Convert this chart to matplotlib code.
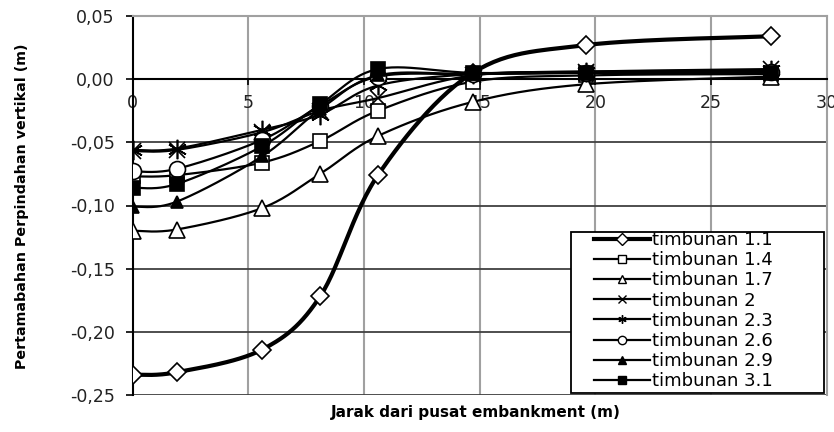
import numpy as np
import matplotlib
matplotlib.use("Agg")
import matplotlib.pyplot as plt
from matplotlib.lines import Line2D
from matplotlib.patches import Rectangle
from matplotlib.ticker import FixedLocator, FuncFormatter

# Distance from embankment centre (m)
jarak = [0, 1.9, 5.6, 8.1, 10.6, 14.7, 19.6, 27.6]

# Vertical displacement increment (m) for each fill stage
t_1_1 = [-0.234, -0.232, -0.214, -0.172, -0.076, 0.005, 0.027, 0.034]
t_1_4 = [-0.077, -0.076, -0.066, -0.049, -0.025, -0.002, 0.003, 0.004]
t_1_7 = [-0.120, -0.119, -0.102, -0.075, -0.045, -0.018, -0.004, 0.002]
t_2 = [-0.057, -0.056, -0.042, -0.025, -0.015, 0.003, 0.006, 0.008]
t_2_3 = [-0.056, -0.055, -0.040, -0.028, -0.005, 0.004, 0.006, 0.007]
t_2_6 = [-0.073, -0.071, -0.048, -0.021, 0.002, 0.004, 0.005, 0.006]
t_2_9 = [-0.101, -0.097, -0.061, -0.024, 0.003, 0.004, 0.005, 0.005]
t_3_1 = [-0.086, -0.083, -0.053, -0.020, 0.008, 0.005, 0.005, 0.005]

labels = ["timbunan 1.1", "timbunan 1.4", "timbunan 1.7", "timbunan 2",
          "timbunan 2.3", "timbunan 2.6", "timbunan 2.9", "timbunan 3.1"]
series = [t_1_1, t_1_4, t_1_7, t_2, t_2_3, t_2_6, t_2_9, t_3_1]

# marker, face colour, marker size, line width
styles = [
    ("D", "white", 9.5, 3.0),
    ("s", "white", 10.5, 1.6),
    ("^", "white", 11.5, 1.6),
    ("x", "none", 12, 1.6),
    ((6, 2, 0), "none", 14, 1.6),
    ("o", "white", 11.5, 1.6),
    ("^", "black", 9, 1.6),
    ("s", "black", 10, 1.6),
]

XMAX, YMIN, YMAX = 30, -0.25, 0.05
AX_W, AX_H = 694, 379


def smooth(xs, ys, n=30):
    # Bezier smoothing through the points, worked out in screen-like units
    px = np.asarray(xs) / XMAX * AX_W
    py = np.asarray(ys) / (YMAX - YMIN) * AX_H
    P = np.column_stack([px, py])
    Pe = np.vstack([P[0], P, P[-1]])
    t = np.linspace(0, 1, n)[:, None]
    out = []
    for i in range(len(P) - 1):
        p0, p3 = P[i], P[i + 1]
        c1 = p0 + (Pe[i + 2] - Pe[i]) / 6
        c2 = p3 - (Pe[i + 3] - Pe[i + 1]) / 6
        seg = ((1 - t) ** 3) * p0 + 3 * ((1 - t) ** 2) * t * c1 \
            + 3 * (1 - t) * t ** 2 * c2 + t ** 3 * p3
        out.append(seg if i == 0 else seg[1:])
    out = np.vstack(out)
    return out[:, 0] * XMAX / AX_W, out[:, 1] * (YMAX - YMIN) / AX_H


plt.rcParams["font.family"] = ["DejaVu Sans"]

fig = plt.figure(figsize=(8.34, 4.32), dpi=100)
ax = fig.add_axes([132.7 / 834, 1 - 395 / 432, AX_W / 834, AX_H / 432])

for i, (vals, (mk, fc, ms, lw)) in enumerate(zip(series, styles)):
    sx, sy = smooth(jarak, vals)
    ax.plot(sx, sy, color="black", lw=lw, zorder=3 + i * 0.1,
            solid_capstyle="round")
    ax.plot(jarak, vals, ls="none", marker=mk, ms=ms, mfc=fc, mec="black",
            mew=1.2, zorder=3.05 + i * 0.1)

ax.set_xlim(0, XMAX)
ax.set_ylim(YMIN, YMAX)

# axis styling: x axis sits on y = 0
ax.spines["bottom"].set_position(("data", 0))
ax.spines["bottom"].set_linewidth(1.5)
ax.spines["left"].set_linewidth(1.5)
ax.spines["left"].set_color("black")
for s in ("top", "right"):
    ax.spines[s].set_color("#a0a0a0")
    ax.spines[s].set_linewidth(1.5)

ax.xaxis.set_major_locator(FixedLocator([0, 5, 10, 15, 20, 25, 30]))
ax.yaxis.set_major_locator(FixedLocator([-0.25, -0.20, -0.15, -0.10, -0.05, 0.0, 0.05]))
ax.yaxis.set_major_formatter(FuncFormatter(lambda v, p: f"{v:.2f}".replace(".", ",")))
ax.tick_params(axis="x", direction="out", length=4, width=1.2, pad=6.5,
               labelsize=12.5, labelcolor="#222222")
ax.tick_params(axis="y", direction="out", length=5, width=1.2, pad=8,
               labelsize=12.5, labelcolor="#222222")

# grid: grey verticals, dark horizontals
for xv in [5, 10, 15, 20, 25]:
    ax.axvline(xv, color="#a0a0a0", lw=1.5, zorder=1)
for yv in [-0.25, -0.20, -0.15, -0.10, -0.05]:
    ax.axhline(yv, color="#404040", lw=1.3, zorder=1)

fig.text(476 / 834, 1 - 413 / 432, "Jarak dari pusat embankment (m)",
         ha="center", va="center", fontsize=11, fontweight="bold")
fig.text(22 / 834, 1 - 206 / 432, "Pertamabahan Perpindahan vertikal (m)",
         rotation=90, ha="center", va="center", fontsize=10.3, fontweight="bold")

# legend with its own frame
box = Rectangle((571 / 834, 1 - 393 / 432), 253 / 834, 161 / 432,
                transform=fig.transFigure, facecolor="white", edgecolor="black",
                lw=1.3, zorder=10)
fig.patches.append(box)
handles = [Line2D([], [], color="black", lw=lw, marker=mk, ms=6, mfc=fc,
                  mec="black", mew=1.0)
           for (mk, fc, ms, lw) in styles]
leg = fig.legend(handles, labels, loc="upper left",
                 bbox_to_anchor=(594 / 834, 1 - 231 / 432),
                 frameon=False, fontsize=13, handlelength=3.1,
                 handletextpad=0.1, labelspacing=0.12, borderpad=0.0,
                 borderaxespad=0.0)
leg.set_zorder(11)

fig.savefig("out.png", dpi=100)
